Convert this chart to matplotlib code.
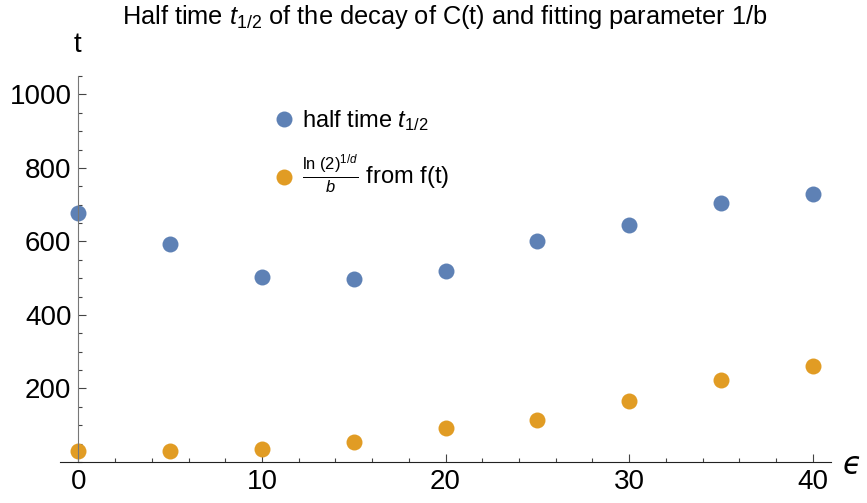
import matplotlib
matplotlib.use("Agg")
import matplotlib.pyplot as plt
from matplotlib.ticker import MultipleLocator

plt.rcParams["font.family"] = ["Liberation Sans", "DejaVu Sans"]
plt.rcParams["mathtext.fontset"] = "custom"
plt.rcParams["mathtext.rm"] = "Liberation Sans"
plt.rcParams["mathtext.it"] = "Liberation Sans:italic"

# ---------- data ----------
eps = [0, 5, 10, 15, 20, 25, 30, 35, 40]
half_time = [678, 593, 503, 498, 520, 601, 645, 705, 729]
fit_param = [30, 31, 35, 54, 93, 113, 166, 223, 261]

blue = "#5E81B5"
orange = "#E19C24"

fig = plt.figure(figsize=(8.67, 5.03), dpi=100)
ax = fig.add_axes([0.0692, 0.0815, 0.8893, 0.7674])

ax.plot(eps, half_time, "o", color=blue, ms=11.5, mec="none", clip_on=False,
        label="half time $t_{1/2}$")
ax.plot(eps, fit_param, "o", color=orange, ms=11.5, mec="none", clip_on=False,
        label=r"$\frac{\ln\,(2)^{1/d}}{b}$ from f(t)")

ax.set_xlim(-1, 41)
ax.set_ylim(0, 1050)

# axes like Mathematica: y axis through x=0
ax.spines["left"].set_position(("data", 0))
ax.spines["left"].set_color("#777777")
ax.spines["bottom"].set_color("#222222")
ax.spines["top"].set_visible(False)
ax.spines["right"].set_visible(False)

ax.xaxis.set_major_locator(MultipleLocator(10))
ax.xaxis.set_minor_locator(MultipleLocator(2))
ax.yaxis.set_major_locator(MultipleLocator(200))
ax.yaxis.set_minor_locator(MultipleLocator(50))
ax.set_yticks([200, 400, 600, 800, 1000])

ax.tick_params(which="major", direction="in", length=5.5, width=0.8,
               labelsize=20, pad=5, colors="#444444", labelcolor="black")
ax.tick_params(which="minor", direction="in", length=3, width=0.8,
               colors="#444444")

fig.text(0.513, 0.966, "Half time $t_{1/2}$ of the decay of C(t) and fitting parameter 1/b",
         ha="center", va="center", fontsize=18.3)
fig.text(0.089, 0.91, "t", ha="center", va="center", fontsize=20)
fig.text(0.982, 0.075, "ϵ", ha="center", va="center", fontsize=22,
         family="DejaVu Sans", style="italic")

ax.legend(loc="upper left", bbox_to_anchor=(0.3035, 0.808), bbox_transform=fig.transFigure,
          frameon=False, fontsize=17, handletextpad=0.35, labelspacing=0.85,
          handlelength=0.8, borderpad=0)

plt.savefig("out.png", dpi=100)
